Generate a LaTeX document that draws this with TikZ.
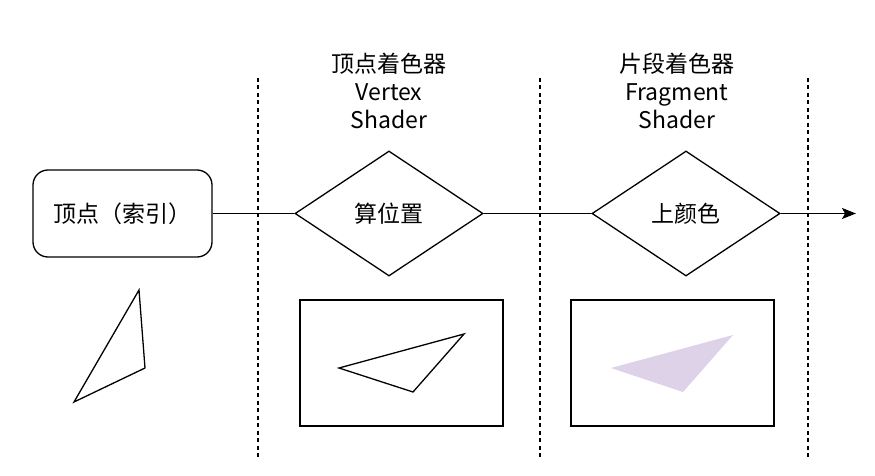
\documentclass[tikz,border=0pt]{standalone}
\usepackage{fontspec}
\setmainfont{Noto Sans CJK SC}
\usetikzlibrary{shapes.geometric,arrows.meta}
\definecolor{lav}{RGB}{221,210,232}
\tikzset{
  ln/.style={line width=1.3pt, draw=black},
  sep/.style={line width=1.3pt, dash pattern=on 4pt off 3.5pt},
  lbl/.style={font=\fontsize{23}{28}\selectfont, align=center, inner sep=0pt},
  startbox/.style={ln, rectangle, rounded corners=15pt, minimum width=179pt, minimum height=87pt, lbl},
  dia/.style={ln, diamond, aspect=1.5, minimum width=188pt, minimum height=125pt, inner sep=0pt, lbl},
  frame/.style={ln, rectangle, minimum width=203pt, minimum height=126pt}
}
\begin{document}
\begin{tikzpicture}[x=1pt,y=-1pt]
\useasboundingbox (0,0) rectangle (875,476);
% separators
\draw[sep] (258,78) -- (258,460);
\draw[sep] (540,78) -- (540,460);
\draw[sep] (808,78) -- (808,460);
% titles
\node[lbl] (t1) at (389,91) {顶点着色器\\Vertex\\Shader};
\node[lbl] (t2) at (677,91) {片段着色器\\Fragment\\Shader};
% nodes
\node[startbox] (v) at (122.5,213.5) {顶点（索引）};
\node[dia] (d1) at (389,213.5) {算位置};
\node[dia] (d2) at (686,213.5) {上颜色};
\coordinate (end) at (856,213.5);
\draw[ln] (v.east) -- (d1.west);
\draw[ln] (d1.east) -- (d2.west);
\draw[ln, -{Stealth[length=14pt,width=11pt,inset=3pt]}] (d2.east) -- (end);
% frames
\node[frame] (f1) at (401.5,363) {};
\node[frame] (f2) at (672.5,363) {};
% triangles
\draw[ln, line join=miter] (139,290) -- (145,368) -- (74,402) -- cycle;
\draw[ln, line join=miter] (339,368) -- (464,334) -- (413,392) -- cycle;
\fill[lav] (611,368) -- (733,335) -- (683,392) -- cycle;
\end{tikzpicture}
\end{document}
